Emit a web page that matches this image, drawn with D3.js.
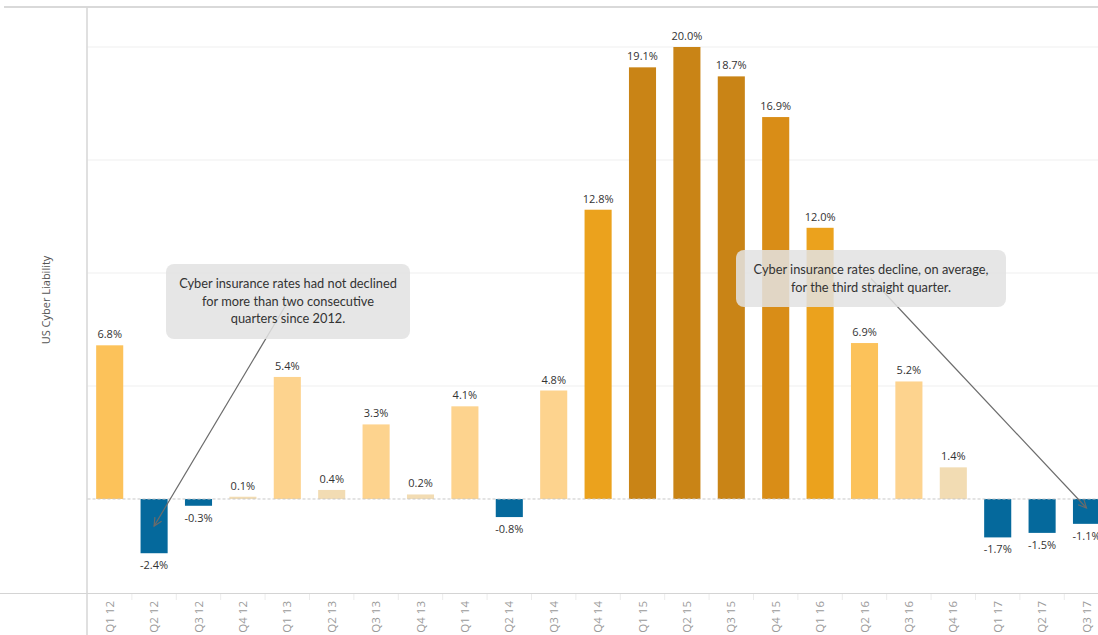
<!DOCTYPE html>
<html>
<head>
<meta charset="utf-8">
<script src="https://cdn.jsdelivr.net/npm/d3@7"></script>
<style>
  html, body { margin: 0; padding: 0; background: #fff; }
  svg { display: block; }
</style>
</head>
<body>
<svg id="chart" width="1098" height="635"></svg>
<script>
const categories = ["Q1 12","Q2 12","Q3 12","Q4 12","Q1 13","Q2 13","Q3 13","Q4 13","Q1 14","Q2 14","Q3 14","Q4 14","Q1 15","Q2 15","Q3 15","Q4 15","Q1 16","Q2 16","Q3 16","Q4 16","Q1 17","Q2 17","Q3 17"];
const values = [6.8,-2.4,-0.3,0.1,5.4,0.4,3.3,0.2,4.1,-0.8,4.8,12.8,19.1,20.0,18.7,16.9,12.0,6.9,5.2,1.4,-1.7,-1.5,-1.1];
const gridTicks = [0, 5, 10, 15, 20];
const colorBreaks = [0, 2, 6, 10, 15, 18];
const colorSteps = ["#05699c","#f2dcb3","#fdd38e","#fcc25a","#eba21d","#d98d17","#c98416"];
const yLabel = "US Cyber Liability";
const notes = [
  {lines:["Cyber insurance rates had not declined","for more than two consecutive","quarters since 2012."], target:"Q2 12", tv:-1.2, box:[166,264,410,339]},
  {lines:["Cyber insurance rates decline, on average,","for the third straight quarter."], target:"Q3 17", tv:-0.4, box:[736,250,1006,307]}
];

(function () {
const W = 1098, H = 635;
const mLeft = 87.5, mTop = 7, mBottom = 593;
const step = 44.4;
const svg = d3.select("#chart");
const font = "Lato, 'Noto Sans', sans-serif";
const font2 = "'Open Sans', 'Noto Sans', sans-serif";

const x = d3.scaleBand().domain(categories)
  .range([mLeft, mLeft + step * categories.length])
  .paddingInner(0.39).paddingOuter(0.195);
const y = d3.scaleLinear().domain([-4.16, 21.77]).range([mBottom, mTop]);
const color = d3.scaleThreshold().domain(colorBreaks).range(colorSteps);

// gridlines
svg.append("g").selectAll("line").data(gridTicks.filter(d => d !== 0)).join("line")
  .attr("x1", mLeft).attr("x2", W)
  .attr("y1", d => y(d)).attr("y2", d => y(d))
  .attr("stroke", "#efefef").attr("stroke-width", 1);

// frame lines
svg.append("line").attr("x1", 4).attr("x2", W).attr("y1", mTop).attr("y2", mTop)
  .attr("stroke", "#cccccc").attr("stroke-width", 1.5);
svg.append("line").attr("x1", 0).attr("x2", W).attr("y1", mBottom + 0.5).attr("y2", mBottom + 0.5)
  .attr("stroke", "#d4d4d4").attr("stroke-width", 1.2);
svg.append("line").attr("x1", mLeft - 0.5).attr("x2", mLeft - 0.5).attr("y1", mTop).attr("y2", H)
  .attr("stroke", "#d6d6d6").attr("stroke-width", 1.5);

// bottom tick separators
svg.append("g").selectAll("line").data(categories.slice(1)).join("line")
  .attr("x1", d => x(d) - x.step() * x.paddingInner() / 2)
  .attr("x2", d => x(d) - x.step() * x.paddingInner() / 2)
  .attr("y1", mBottom + 1).attr("y2", mBottom + 7)
  .attr("stroke", "#ececec");

// x axis labels
const xAxis = d3.axisBottom(x).tickSize(0).tickPadding(0);
const gx = svg.append("g").attr("transform", `translate(0,${mBottom})`).call(xAxis);
gx.select(".domain").remove();
gx.selectAll("text")
  .attr("transform", "rotate(-90)")
  .attr("x", -8).attr("y", 0).attr("dy", "0.35em")
  .attr("text-anchor", "end")
  .attr("fill", "#9a9a9a")
  .style("font-family", font2).style("font-size", "11.5px");

// y label
svg.append("text")
  .attr("transform", `translate(50,300) rotate(-90)`)
  .attr("text-anchor", "middle")
  .attr("fill", "#555")
  .style("font-family", font2).style("font-size", "11px")
  .text(yLabel);

// bars
svg.append("g").selectAll("rect").data(values).join("rect")
  .attr("x", (d, i) => x(categories[i]))
  .attr("width", x.bandwidth())
  .attr("y", d => Math.min(y(d), y(0)))
  .attr("height", d => Math.abs(y(d) - y(0)))
  .attr("fill", d => color(d));

// zero line
svg.append("line").attr("x1", mLeft).attr("x2", W).attr("y1", y(0)).attr("y2", y(0))
  .attr("stroke", "#c8c8c8").attr("stroke-dasharray", "3,2").attr("stroke-width", 1);

// value labels
svg.append("g").selectAll("text").data(values).join("text")
  .attr("x", (d, i) => x(categories[i]) + x.bandwidth() / 2)
  .attr("y", d => d >= 0 ? y(d) - 7 : y(d) + 16)
  .attr("text-anchor", "middle")
  .attr("fill", "#333")
  .style("font-family", font2).style("font-size", "11px")
  .text(d => d.toFixed(1) + "%");

// annotations
notes.forEach(n => {
  const [x0, y0, x1, y1] = n.box;
  const cx = (x0 + x1) / 2, cy = (y0 + y1) / 2;
  const tx = x(n.target) + x.bandwidth() / 2, ty = y(n.tv);
  const g = svg.append("g");
  g.append("line").attr("x1", cx).attr("y1", cy).attr("x2", tx).attr("y2", ty)
    .attr("stroke", "#6b6b6b").attr("stroke-width", 1.2);
  const ang = Math.atan2(ty - cy, tx - cx);
  const L = 9, spread = 0.45;
  const p = d3.path();
  p.moveTo(tx - L * Math.cos(ang - spread), ty - L * Math.sin(ang - spread));
  p.lineTo(tx, ty);
  p.lineTo(tx - L * Math.cos(ang + spread), ty - L * Math.sin(ang + spread));
  g.append("path").attr("d", p.toString()).attr("fill", "none")
    .attr("stroke", "#6b6b6b").attr("stroke-width", 1.2);
  g.append("rect").attr("x", x0).attr("y", y0).attr("width", x1 - x0).attr("height", y1 - y0)
    .attr("rx", 8).attr("fill", "rgb(226,226,226)").attr("fill-opacity", 0.86);
  const lh = 17.5;
  const startY = cy - (n.lines.length - 1) * lh / 2;
  n.lines.forEach((t, i) => {
    g.append("text").attr("x", cx).attr("y", startY + i * lh).attr("dy", "0.35em")
      .attr("text-anchor", "middle").attr("fill", "#333")
      .style("font-family", font).style("font-size", "12.8px")
      .text(t);
  });
});
})();
</script>
</body>
</html>
